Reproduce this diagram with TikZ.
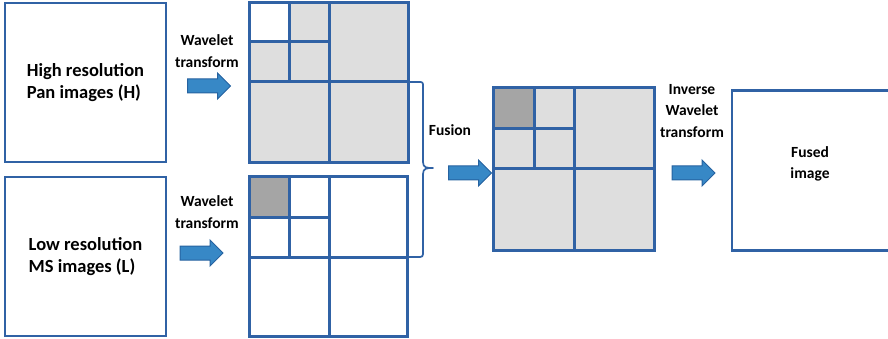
\documentclass[tikz,border=0pt]{standalone}
\usepackage{fontspec}
\setmainfont{Carlito}
\usepackage{tikz}
\usetikzlibrary{positioning}
\usetikzlibrary{shapes.arrows,calc}

\definecolor{boxblue}{RGB}{48,98,165}
\definecolor{arrowblue}{RGB}{55,136,198}
\definecolor{arrowedge}{RGB}{38,98,160}
\definecolor{lightcell}{RGB}{222,222,222}
\definecolor{darkcell}{RGB}{165,165,165}

\begin{document}
\begin{tikzpicture}
    [x=1pt, y=-1pt,
      imgbox/.style={rectangle, draw=boxblue, line width=2.4pt, inner sep=0pt},
      cell/.style={draw=boxblue, line width=3pt},
      bigarrow/.style={single arrow, draw=arrowedge, fill=arrowblue, line width=1pt,
        minimum height=43, minimum width=25, single arrow head extend=6,
        single arrow head indent=0, inner sep=6.5pt},
      lbl/.style={font=\bfseries\fontsize{15.5}{21.5}\selectfont, align=center},
      srclbl/.style={font=\bfseries\fontsize{18.5}{22}\selectfont, align=left},
      brace/.style={draw=boxblue, line width=1.7pt, line join=round}]

    \useasboundingbox (0,0) rectangle (888,339);

    % source images
    \node (pan) at (85.5,82.5) [imgbox, minimum width=161, minimum height=159] {};
    \node (ms) at (85.5,256.5) [imgbox, minimum width=161, minimum height=159] {};
    \node at (pan) [srclbl] {High resolution\\Pan images (H)};
    \node at (ms) [srclbl] {Low resolution\\MS images (L)};

    % wavelet transform
    \node (panarrow) at (205.5,86) [bigarrow] {};
    \node (msarrow) at (198,253) [bigarrow] {};
    \node (panlbl) at (207,51) [lbl] {Wavelet\\transform};
    \node (mslbl) at (207,212) [lbl] {Wavelet\\transform};

    % decomposition of H
    \fill[lightcell] (249,3) rectangle (408,163);
    \fill[white] (249,3) rectangle (289,42);
    \draw[cell] (249,3) rectangle (408,163);
    \draw[cell] (329,3) -- (329,163) (249,82) -- (408,82);
    \draw[cell] (289,3) -- (289,82) (249,42) -- (329,42);
    \coordinate (panw) at (408,82);

    % decomposition of L
    \fill[darkcell] (249,177) rectangle (289,217);
    \draw[cell] (249,177) rectangle (407,336);
    \draw[cell] (329,177) -- (329,336) (249,257) -- (407,257);
    \draw[cell] (289,177) -- (289,257) (249,217) -- (329,217);
    \coordinate (msw) at (407,257);

    % fusion brace
    \coordinate (tip) at (433,168);
    \draw[brace] (panw) -- (418,82) .. controls (423,82) .. (423,87) -- (423,162)
      .. controls (423,168) and (427,168) .. (tip)
      .. controls (427,168) and (423,168) .. (423,174) -- (423,251)
      .. controls (423,257) .. (417,257) -- (msw);
    \node (fusionlbl) at (450,130) [lbl] {Fusion};
    \node (fusearrow) at (466.5,173) [bigarrow] {};

    % fused coefficients
    \fill[lightcell] (493,88) rectangle (654,250);
    \fill[darkcell] (493,88) rectangle (534,129);
    \draw[cell] (493,88) rectangle (654,250);
    \draw[cell] (574,88) -- (574,250) (493,169) -- (654,169);
    \draw[cell] (534,88) -- (534,169) (493,129) -- (574,129);

    % inverse transform
    \node (invlbl) at (692,111) [lbl] {Inverse\\Wavelet\\transform};
    \node (invarrow) at (690,173) [bigarrow] {};

    % result
    \node (fused) at (813,170.5) [imgbox, minimum width=162, minimum height=160] {};
    \node (fusedlbl) at (810,164) [lbl] {Fused\\image};
  \end{tikzpicture}
\end{document}
